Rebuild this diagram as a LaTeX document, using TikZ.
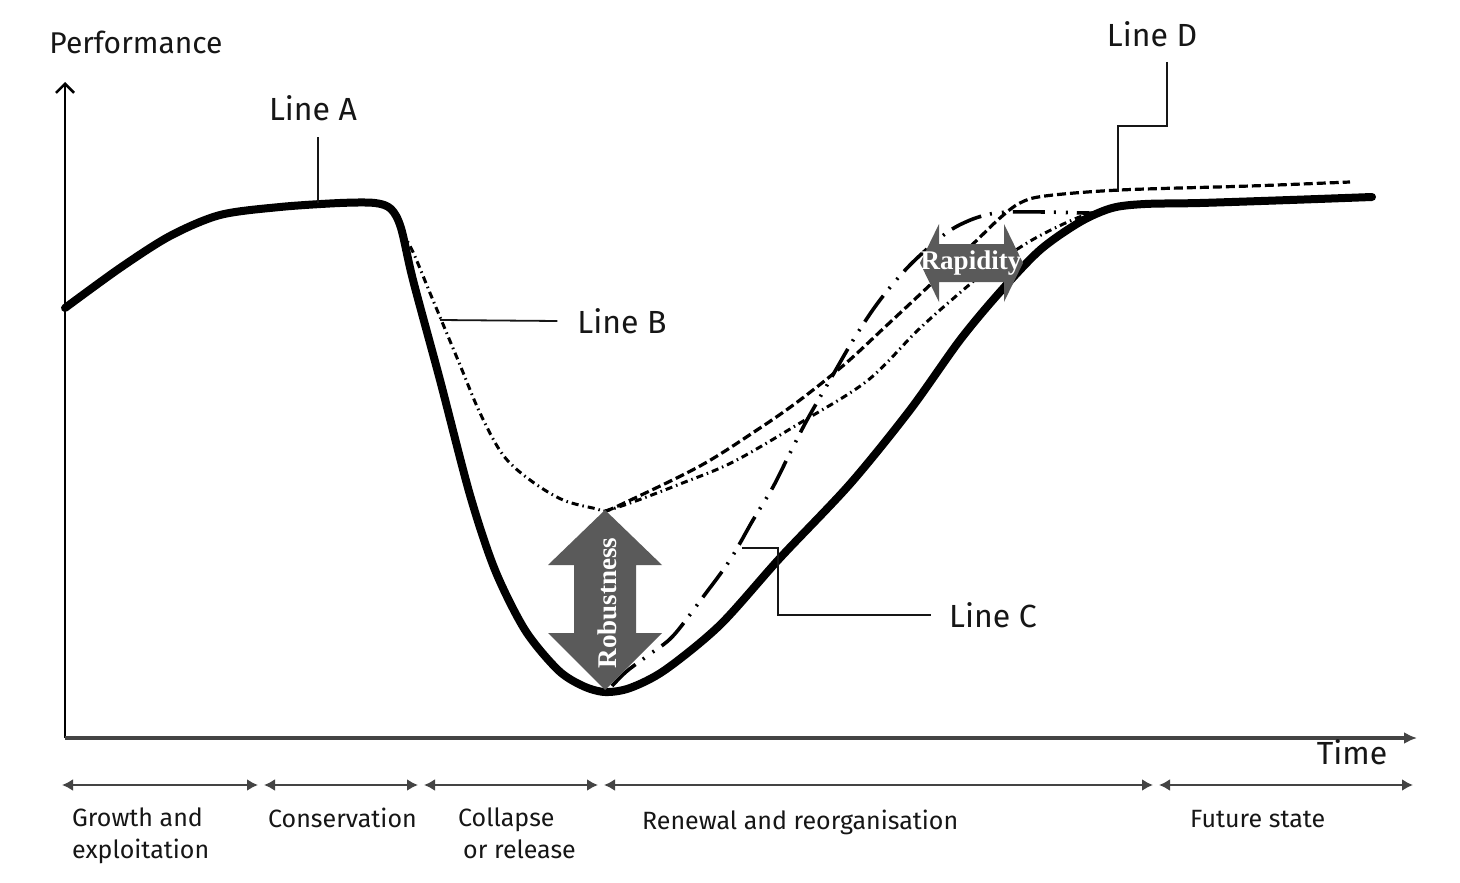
\documentclass[tikz,border=0pt]{standalone}
\usepackage{fontspec}
\setmainfont{Fira Sans}
\newfontfamily\arrowfont{Liberation Serif}
\usetikzlibrary{arrows.meta}
\definecolor{ink}{HTML}{161616}
\definecolor{arrowgray}{HTML}{5A5A5A}
\definecolor{axisgray}{HTML}{444444}
\tikzset{
  lbl/.style={text=ink, font=\fontsize{32}{36}\selectfont, inner sep=0pt},
  axislbl/.style={text=ink, font=\fontsize{30}{34}\selectfont, inner sep=0pt},
  phaselbl/.style={text=ink, font=\fontsize{25}{32}\selectfont, inner sep=0pt, align=left, anchor=north west},
  leader/.style={draw=ink, line width=1.8pt},
  yaxis/.style={draw=black, line width=2.2pt, -{Straight Barb[length=9pt,width=18pt,line width=2.6pt]}},
  xaxis/.style={draw=axisgray, line width=3.2pt, -{Latex[length=13pt,width=12pt]}},
  phasearrow/.style={draw=axisgray, line width=2.8pt, {Latex[length=11pt,width=12pt]}-{Latex[length=11pt,width=12pt]}},
  lineA/.style={draw=black, line width=8pt, line cap=round, line join=round},
  lineB/.style={draw=black, line width=3pt, dash pattern=on 7pt off 4pt on 1.5pt off 4pt},
  lineC/.style={draw=black, line width=3.6pt, dash pattern=on 32pt off 9pt on 2pt off 10pt on 2pt off 9pt},
  lineD/.style={draw=black, line width=3.2pt, dash pattern=on 9pt off 4pt},
  bigarrow/.style={fill=arrowgray, draw=none},
  arrowtext/.style={text=white, font=\arrowfont\bfseries\fontsize{27}{30}\selectfont, inner sep=0pt}
}
\begin{document}
\begin{tikzpicture}[x=1pt,y=-1pt]
\useasboundingbox[fill=white] (0,0) rectangle (1460,883);

% axes
\coordinate (O) at (65,738);
\coordinate (Ytop) at (65,82);
\coordinate (Xend) at (1417,738);
\draw[yaxis] (O) -- (Ytop);
\draw[xaxis] (O) -- (Xend);
\node[axislbl] (perf) at (136,42) {Performance};
\node[lbl] (time) at (1352,752) {Time};

% phase bar
\coordinate (p0) at (62,785);
\coordinate (p1a) at (258,785);
\coordinate (p1b) at (264,785);
\coordinate (p2a) at (418,785);
\coordinate (p2b) at (424,785);
\coordinate (p3a) at (598,785);
\coordinate (p3b) at (604,785);
\coordinate (p4a) at (1153,785);
\coordinate (p4b) at (1159,785);
\coordinate (p5) at (1413,785);
\draw[phasearrow] (p0) -- (p1a);
\draw[phasearrow] (p1b) -- (p2a);
\draw[phasearrow] (p2b) -- (p3a);
\draw[phasearrow] (p3b) -- (p4a);
\draw[phasearrow] (p4b) -- (p5);
\node[phaselbl] (ph1) at (72,808) {Growth and\\exploitation};
\node[phaselbl] (ph2) at (268,808) {Conservation};
\node[phaselbl] (ph3) at (458,808) {Collapse\\\hspace*{5pt}or release};
\node[phaselbl] (ph4) at (642,810) {Renewal and reorganisation};
\node[phaselbl] (ph5) at (1190,810) {Future state};

% Line B
\draw[lineB] plot[smooth, tension=0.55] coordinates {
  (402,232) (413,252) (430,293) (440,317) (460,365) (480,413) (503,455)
  (530,480) (563,500) (597,509) (605,511)
  (633,502) (680,484) (733,462) (800,423) (867,381) (917,331) (955,297)
  (990,268) (1027,243) (1057,227) (1085,215) (1110,210)};

% Line D
\draw[lineD] plot[smooth, tension=0.55] coordinates {
  (605,511) (620,505) (700,466) (760,428) (800,400) (845,364) (885,327)
  (930,285) (975,242) (1000,218) (1020,203) (1045,196) (1120,190)
  (1250,186) (1350,182)};

% Line C
\draw[lineC] plot[smooth, tension=0.55] coordinates {
  (612,686) (627,671) (650,654) (673,636) (703,597) (730,560) (753,520)
  (773,487) (790,453) (807,420) (830,380) (855,337) (880,300) (910,265)
  (945,234) (968,221) (990,214) (1010,212) (1045,212) (1085,213) (1100,213)};

% Line A
\draw[lineA] plot[smooth, tension=0.5] coordinates {
  (65,308) (120,268) (170,236) (220,215) (280,207) (340,203) (375,203)
  (391,209) (401,228) (413,280) (440,380) (470,495) (495,570) (525,630)
  (558,670) (583,686) (605,692) (630,688) (665,670) (720,625) (780,558)
  (850,484) (910,410) (960,340) (1000,292) (1040,250) (1080,222) (1112,208)
  (1145,204) (1200,203) (1290,200) (1372,197)};

% Robustness arrow
\fill[bigarrow] (605,510) -- (662,565) -- (636,565) -- (636,633) -- (662,633)
  -- (605,690) -- (548,633) -- (574,633) -- (574,565) -- (548,565) -- cycle;
\node[arrowtext, rotate=90] (rob) at (607,603) {Robustness};

% Rapidity arrow
\fill[bigarrow] (920,263) -- (939,224) -- (939,244) -- (1004,244) -- (1004,224)
  -- (1023,263) -- (1004,302) -- (1004,282) -- (939,282) -- (939,302) -- cycle;
\node[arrowtext] (rap) at (971,263) {Rapidity};

% labels and leaders
\node[lbl] (labA) at (313,108) {Line A};
\coordinate (A0) at (318,137);
\coordinate (A1) at (318,203);
\draw[leader] (A0) -- (A1);

\node[lbl] (labB) at (622,321) {Line B};
\coordinate (B1) at (440,320);
\draw[leader] (B1) -- ([xshift=-20pt]labB.west);

\node[lbl] (labC) at (993,615) {Line C};
\coordinate (C1) at (742,548);
\coordinate (C2) at (778,548);
\draw[leader] (C1) -- (C2) |- ([xshift=-18pt]labC.west);

\node[lbl] (labD) at (1152,34) {Line D};
\coordinate (D0) at (1167,62);
\coordinate (D1) at (1118,192);
\draw[leader] (D0) |- (1118,126) -- (D1);
\end{tikzpicture}
\end{document}
